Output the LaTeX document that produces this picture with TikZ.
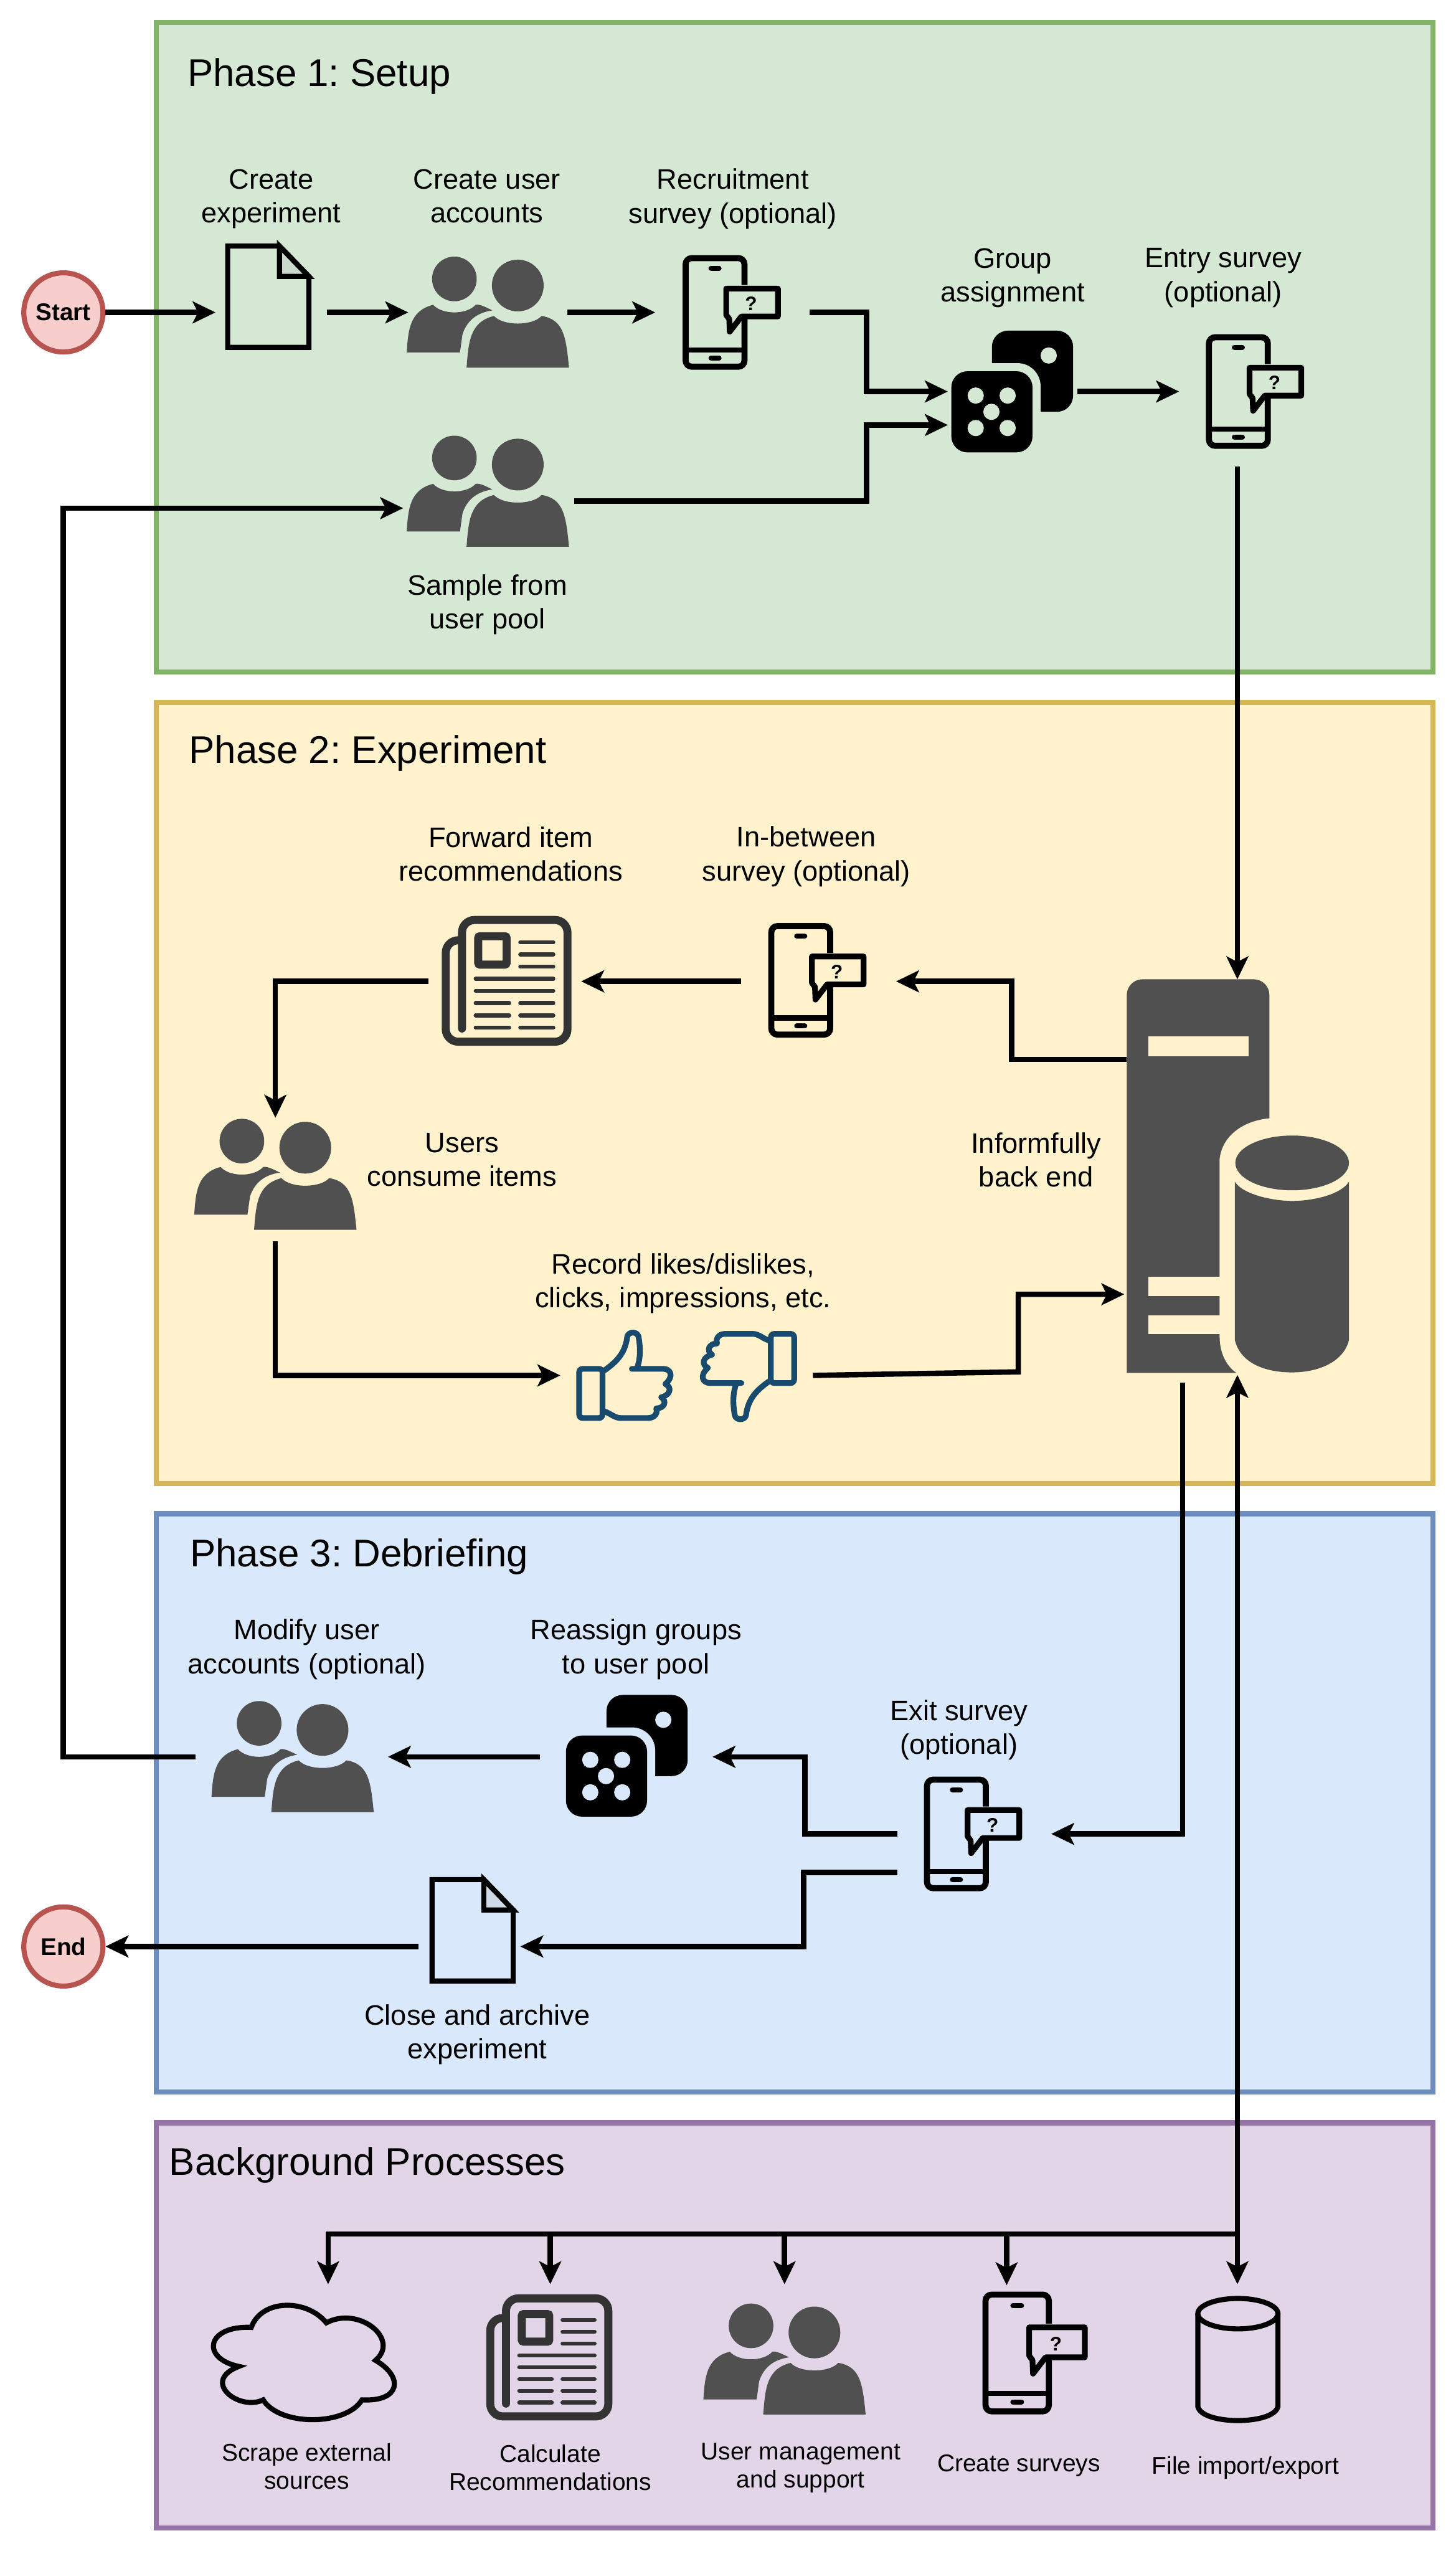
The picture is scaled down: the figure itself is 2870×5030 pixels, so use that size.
\documentclass[tikz,border=0pt]{standalone}
\usepackage{fontspec}
\setmainfont{Liberation Sans}
\usetikzlibrary{positioning, arrows.meta, backgrounds, calc}
\frenchspacing

\definecolor{setupfill}{HTML}{D5E8D4}
\definecolor{setupline}{HTML}{82B366}
\definecolor{expfill}{HTML}{FFF2CC}
\definecolor{expline}{HTML}{D6B656}
\definecolor{debrieffill}{HTML}{DAE8FC}
\definecolor{debriefline}{HTML}{6C8EBF}
\definecolor{bgfill}{HTML}{E1D5E7}
\definecolor{bgline}{HTML}{9673A6}
\definecolor{termfill}{HTML}{F8CECC}
\definecolor{termline}{HTML}{B85450}
\definecolor{icongray}{HTML}{505050}
\definecolor{newsgray}{HTML}{333333}
\definecolor{thumbblue}{HTML}{174A6C}

\tikzset{
  docicon/.pic={
    \draw[line width=2.85pt, miter limit=10] (5,5) -- (107,5) -- (165,65) -- (165,205) -- (5,205) -- cycle;
    \draw[line width=2.85pt, fill=black!30, fill opacity=.25] (107,5) -- (107,65) -- (165,65) -- cycle;
  },
  usersicon/.pic={
    \fill[icongray] (94,45) circle[radius=44];
    \fill[icongray] (219,58) circle[radius=51];
    \fill[icongray] (0,190) .. controls (3,145) and (6,108) .. (52,96) .. controls (70,116) and (118,116) .. (136,96) .. controls (145,94) and (160,103) .. (169,107) .. controls (135,112) and (118,130) .. (110,154) -- (105,190) -- cycle;
    \fill[icongray] (118,220) .. controls (122,170) and (124,130) .. (172,118) .. controls (190,138) and (248,138) .. (266,118) .. controls (310,125) and (314,160) .. (320,220) -- cycle;
  },
  phoneicon/.pic={
    \draw[line width=3.4pt, rounded corners=3.4pt] (122,59) -- (122,6) -- (6,6) -- (6,220) -- (122,220) -- (122,125);
    \draw[line width=3pt] (6,187) -- (122,187);
    \draw[line width=2.8pt, line cap=round] (56,26) -- (72,26);
    \draw[line width=2.8pt, line cap=round] (56,203) -- (72,203);
    \draw[line width=3.2pt, line join=round] (86,66) -- (188,66) -- (188,121) -- (116,121) -- (93,151) -- (92,126) -- (86,118) -- cycle;
    \node[font=\bfseries\fontsize{11pt}{11pt}\selectfont, inner sep=0pt] (mark) at (135,96) {?};
  },
  pics/diceicon/.style={code={
    \fill[rounded corners=9pt] (80,0) rectangle (240,160);
    \fill[#1, rounded corners=13pt] (-16,64) rectangle (176,256);
    \fill[rounded corners=9pt] (0,80) rectangle (160,240);
    \fill[#1] (192,49) circle[radius=16];
    \foreach \px/\py in {48/128, 111/128, 79/160, 48/192, 111/192}
      \fill[#1] (\px,\py) circle[radius=16];
  }},
  newsicon/.pic={
    \draw[newsgray, line width=4.5pt, rounded corners=7pt, line cap=round] (40,222) -- (40,8) -- (248,8) -- (248,248) -- (8,248) -- (8,48) -- (40,48);
    \draw[newsgray, line width=4.5pt, rounded corners=1pt] (72,40) rectangle (128,96);
    \foreach \ly in {52,76,100}
      \draw[newsgray, line width=2.3pt, line cap=round] (155,\ly) -- (220,\ly);
    \foreach \ly in {124,148}
      \draw[newsgray, line width=2.3pt, line cap=round] (67,\ly) -- (220,\ly);
    \foreach \ly in {172,196,220} {
      \draw[newsgray, line width=2.3pt, line cap=round] (67,\ly) -- (133,\ly);
      \draw[newsgray, line width=2.3pt, line cap=round] (155,\ly) -- (220,\ly);
    }
  },
  thumbicon/.pic={
    \draw[thumbblue, line width=3.2pt, rounded corners=2pt] (6,76) rectangle (52,173);
    \draw[thumbblue, line width=3.2pt, line join=round, line cap=round] (56,79) .. controls (80,62) and (97,45) .. (101,12) .. controls (104,2) and (120,2) .. (123,12) .. controls (128,40) and (126,58) .. (120,76) (110,76) -- (172,76) .. controls (186,76) and (194,90) .. (176,106) .. controls (190,112) and (186,128) .. (168,132) .. controls (180,140) and (174,154) .. (158,154) .. controls (162,166) and (152,173) .. (142,173) -- (88,173) .. controls (76,173) and (68,164) .. (56,160);
  },
}

\begin{document}
\begin{tikzpicture}[
    x=0.01cm, y=-0.01cm,
    phasebox/.style={draw, line width=2.85pt, inner sep=0pt, minimum width=25.16cm},
    slot/.style 2 args={minimum width=#1*0.01cm, minimum height=#2*0.01cm, inner sep=0pt, outer sep=0pt},
    term/.style={circle, draw=termline, fill=termfill, line width=2.85pt, minimum size=1.56cm, inner sep=0pt, font=\bfseries\fontsize{13.5pt}{16pt}\selectfont},
    lbl/.style={font=\fontsize{15.8pt}{19pt}\selectfont, align=center, inner sep=0pt},
    sublbl/.style={font=\fontsize{13.6pt}{15.7pt}\selectfont, align=center, inner sep=0pt},
    phasetitle/.style={font=\fontsize{21.6pt}{26pt}\selectfont, anchor=west, inner sep=0pt},
    line/.style={line width=3pt},
    arr/.style={line, -{Stealth[length=12.8pt, width=12.2pt, inset=3pt]}},
    twoway/.style={line, {Stealth[length=12.8pt, width=12.2pt, inset=3pt]}-{Stealth[length=12.8pt, width=12.2pt, inset=3pt]}},
  ]
    \useasboundingbox (0,0) rectangle (2870,5030);

    % Phases
    \begin{scope}[on background layer]
      \node[phasebox, draw=setupline, fill=setupfill, minimum height=12.8cm] (setup) at (1567,685) {};
      \node[phasebox, draw=expline, fill=expfill, minimum height=15.39cm] (exper) at (1567,2155.5) {};
      \node[phasebox, draw=debriefline, fill=debrieffill, minimum height=11.4cm] (debrief) at (1567,3555) {};
      \node[phasebox, draw=bgline, fill=bgfill, minimum height=7.98cm] (procs) at (1567,4585) {};
    \end{scope}
    \node[phasetitle] (setuptitle) at (369,150) {Phase 1: Setup};
    \node[phasetitle] (expertitle) at (372,1485) {Phase 2: Experiment};
    \node[phasetitle] (debrieftitle) at (374,3069) {Phase 3: Debriefing};
    \node[phasetitle] (procstitle) at (333,4269) {Background Processes};

    % Start and end
    \node[term] (start) at (125,616) {Start};
    \node[term] (finish) at (125,3838) {End};

    % Phase 1 icons
    \node[slot={220}{210}] (docA) at (535,616) {};
    \node[slot={314}{220}] (usersA) at (962,616) {};
    \node[slot={305}{226}] (phoneA) at (1444.5,616) {};
    \node[slot={256}{240}] (dice) at (1997,772) {};
    \node[slot={230}{261}] (entry) at (2440,789.5) {};
    \node[slot={337}{220}] (usersB) at (963.5,1002) {};
    \pic at (444,480) {docicon};
    \pic at (802,505) {usersicon};
    \pic at (1346,503) {phoneicon};
    \pic at (1876,652) {diceicon={setupfill}};
    \pic at (2378,659) {phoneicon};
    \pic at (802,858) {usersicon};

    \node[lbl] (lblA) at (535,392) {Create\\experiment};
    \node[lbl] (lblB) at (960,387) {Create user\\accounts};
    \node[lbl] (lblC) at (1445,392) {Recruitment\\survey (optional)};
    \node[lbl] (lblD) at (1997,548) {Group\\assignment};
    \node[lbl] (lblE) at (2412,548) {Entry survey\\(optional)};
    \node[lbl] (lblF) at (961,1192) {Sample from\\user pool};

    % Phase 2 icons
    \node[slot={440}{780}] (backend) at (2440,2321) {};
    \node[slot={306}{226}] (midsurvey) at (1614,1935) {};
    \node[slot={301}{256}] (news) at (995.5,1935) {};
    \node[slot={320}{243}] (usersC) at (543,2325.5) {};
    \node[slot={498}{180}] (thumbs) at (1354,2712) {};
    \pic at (1515,1820) {phoneicon};
    \pic at (871,1806) {newsicon};
    \pic at (383,2205) {usersicon};
    \pic at (1136,2623) {thumbicon};
    \pic[shift={(1572,2803)}, rotate=180] {thumbicon};

    % Server and database
    \fill[icongray] (2222,2707) -- (2222,1961) .. controls (2222,1945) and (2236,1931) .. (2252,1931) -- (2473,1931) .. controls (2489,1931) and (2503,1945) .. (2503,1961) -- (2503,2205) .. controls (2450,2210) and (2410,2240) .. (2405,2285) -- (2405,2636) .. controls (2405,2670) and (2420,2695) .. (2438,2707) -- cycle;
    \fill[expfill] (2264,2044) rectangle (2462,2083);
    \fill[expfill] (2264,2518) rectangle (2406,2555);
    \fill[expfill] (2264,2593) rectangle (2406,2631);
    \fill[icongray] (2548,2293) ellipse[x radius=112, y radius=54];
    \fill[icongray] (2435,2330) .. controls (2450,2355) and (2510,2368) .. (2548,2368) .. controls (2590,2368) and (2645,2355) .. (2660,2330) -- (2660,2642) .. controls (2650,2685) and (2600,2706) .. (2548,2706) .. controls (2490,2706) and (2445,2685) .. (2435,2642) -- cycle;

    \node[lbl] (lblG) at (1007,1684) {Forward item\\recommendations};
    \node[lbl] (lblH) at (1590,1689) {In-between\\survey (optional)};
    \node[lbl] (lblI) at (911,2287) {Users\\consume items};
    \node[lbl] (lblJ) at (2043,2287) {Informfully\\back end};
    \node[lbl] (lblK) at (1347,2531) {Record likes/dislikes,\\clicks, impressions, etc.};

    % Phase 3 icons
    \node[slot={304}{226}] (exitsurvey) at (1921,3616) {};
    \node[slot={340}{240}] (reassign) at (1235,3464) {};
    \node[slot={380}{220}] (modify) at (575,3464) {};
    \node[slot={201}{209}] (closing) at (925.5,3838) {};
    \pic at (1822,3503) {phoneicon};
    \pic at (1116,3342) {diceicon={debrieffill}};
    \pic at (417,3353) {usersicon};
    \pic at (847,3701) {docicon};

    \node[lbl] (lblL) at (605,3252) {Modify user\\accounts (optional)};
    \node[lbl] (lblM) at (1254,3252) {Reassign groups\\to user pool};
    \node[lbl] (lblN) at (1891,3411) {Exit survey\\(optional)};
    \node[lbl] (lblO) at (941,4012) {Close and archive\\experiment};

    % Background process icons
    \node[slot={274}{273}] (scrape) at (647,4640.5) {};
    \node[slot={248}{273}] (calc) at (1085,4640.5) {};
    \node[slot={320}{273}] (mgmt) at (1547,4640.5) {};
    \node[slot={240}{273}] (surveys) at (1985,4642.5) {};
    \node[slot={168}{273}] (files) at (2440,4640.5) {};
    \draw[line width=2.85pt] (495.5,4589) .. controls (516,4532.5) and (605,4532.5) .. (643.5,4580) .. controls (707,4546) and (790,4612) .. (740.5,4654) .. controls (797,4687) and (790,4736) .. (713.7,4732) .. controls (682,4784) and (551,4784) .. (519,4732) .. controls (471,4755) and (395,4695) .. (471,4666) .. controls (395,4650) and (407,4585) .. (495.5,4589) -- cycle;
    \pic[shift={(959,4524)}, scale=.97] {newsicon};
    \pic at (1387,4541) {usersicon};
    \pic[shift={(1937,4518)}, scale=1.075] {phoneicon};
    \draw[line width=2.85pt] (2362,4562) -- (2362,4745) .. controls (2370,4782) and (2512,4782) .. (2520,4745) -- (2520,4562);
    \draw[line width=2.85pt] (2441,4562) ellipse[x radius=79, y radius=30];

    \node[sublbl] (lblP) at (605,4863) {Scrape external\\sources};
    \node[sublbl] (lblQ) at (1085,4865) {Calculate\\Recommendations};
    \node[sublbl] (lblR) at (1579,4866) {User management\\and support};
    \node[sublbl] (lblS) at (2009,4862) {Create surveys};
    \node[sublbl] (lblT) at (2456,4866) {File import/export};

    % Free ends
    \coordinate (dicein) at (1869,838);
    \coordinate (usersout) at (1132,988);
    \coordinate (backout) at (2221,2089);
    \coordinate (backin) at (2217,2552);
    \coordinate (backdown) at (2332,2726);
    \coordinate (exitout) at (1769,3692);
    \coordinate (bus) at (2440,4405);

    % Phase 1 arrows
    \draw[arr] (start) -- (docA);
    \draw[arr] (docA) -- (usersA);
    \draw[arr] (usersA) -- (phoneA);
    \draw[arr] (phoneA.east) -- (1709,616) |- (dice.west);
    \draw[arr] (usersout) -- (1709,988) |- (dicein);
    \draw[arr] (dice.east) -- (dice.east -| entry.west);
    \draw[arr] (entry.south) -- (backend.north);

    % Phase 2 arrows
    \draw[arr] (backout) -- (1995,2089) |- (midsurvey.east);
    \draw[arr] (midsurvey) -- (news);
    \draw[arr] (news.west) -| (usersC.north);
    \draw[arr] (usersC.south) |- (thumbs.west);
    \draw[arr] (thumbs.east) -- (2008,2705) |- (backin);

    % Phase 3 arrows
    \draw[arr] (backdown) |- (exitsurvey.east);
    \draw[arr] (exitsurvey.west) -- (1587,3616) |- (reassign.east);
    \draw[arr] (exitout) -- (1585,3692) |- (closing.east);
    \draw[arr] (reassign) -- (modify);
    \draw[arr] (closing) -- (finish);
    \draw[arr] (modify.west) -- (125,3464) |- (usersB.west);

    % Background arrows
    \draw[twoway] (backend.south) -- (files.north);
    \draw[arr] (bus) -| (scrape.north);
    \draw[arr] (calc.north |- bus) -- (calc.north);
    \draw[arr] (mgmt.north |- bus) -- (mgmt.north);
    \draw[arr] (surveys.north |- bus) -- (surveys.north);
\end{tikzpicture}
\end{document}
